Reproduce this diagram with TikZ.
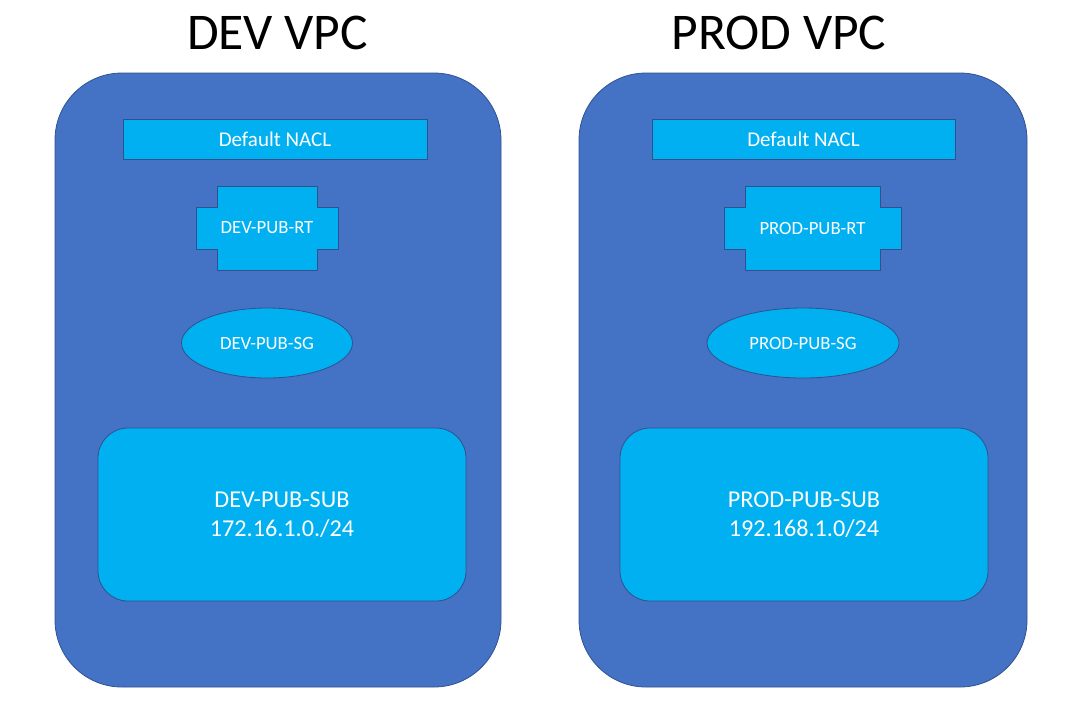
\documentclass[tikz,border=0pt]{standalone}
\usepackage{fontspec}
\setmainfont{Carlito}
\usepackage{tikz}
\usetikzlibrary{shapes.geometric}
\definecolor{vpcblue}{HTML}{4472C4}
\definecolor{edgeblue}{HTML}{2F528F}
\definecolor{partblue}{HTML}{00B0F0}
\tikzset{
  vpc/.style={draw=edgeblue, fill=vpcblue, line width=0.8pt, rounded corners=67pt},
  title/.style={anchor=base, font=\fontsize{51.5}{60}\selectfont},
  part/.style={draw=edgeblue, fill=partblue, line width=0.8pt, text=white, inner sep=0pt},
  nacl/.style={part, rectangle, font=\fontsize{21}{25}\selectfont},
  sg/.style={part, ellipse, font=\fontsize{18.7}{22}\selectfont},
  subnet/.style={part, rounded corners=30pt, align=center, font=\fontsize{24.2}{29}\selectfont},
  rtlabel/.style={text=white, font=\fontsize{18.7}{22}\selectfont},
}

\begin{document}
\begin{tikzpicture}[x=1pt, y=-1pt]
  \useasboundingbox (0,0) rectangle (1075,716);

  % titles
  \node[title] (devtitle) at (277.5,49) {DEV VPC};
  \node[title] (prodtitle) at (779,49) {PROD VPC};

  % vpcs
  \node[vpc, minimum width=446pt, minimum height=614pt] (devvpc) at (278,380) {};
  \node[vpc, minimum width=448pt, minimum height=614pt] (prodvpc) at (803,380) {};

  % nacls
  \node[nacl, minimum width=304pt, minimum height=40pt] (devnacl) at (275,139) {Default NACL};
  \node[nacl, minimum width=303pt, minimum height=40pt] (prodnacl) at (803.5,139) {Default NACL};

  % route tables
  \draw[part] (217,186) -- ++(100,0) -- ++(0,21) -- ++(21,0) -- ++(0,42) -- ++(-21,0)
    -- ++(0,21) -- ++(-100,0) -- ++(0,-21) -- ++(-21,0) -- ++(0,-42) -- ++(21,0) -- cycle;
  \node[rtlabel] (devrt) at (267,228) {DEV-PUB-RT};
  \draw[part] (745,186) -- ++(135,0) -- ++(0,21) -- ++(21,0) -- ++(0,42) -- ++(-21,0)
    -- ++(0,21) -- ++(-135,0) -- ++(0,-21) -- ++(-21,0) -- ++(0,-42) -- ++(21,0) -- cycle;
  \node[rtlabel] (prodrt) at (812.5,228) {PROD-PUB-RT};

  % security groups
  \node[sg, minimum width=171pt, minimum height=70pt] (devsg) at (267,343) {DEV-PUB-SG};
  \node[sg, minimum width=192pt, minimum height=70pt] (prodsg) at (803,343) {PROD-PUB-SG};

  % subnets
  \node[subnet, minimum width=368pt, minimum height=173pt] (devsub) at (282,514.5)
    {DEV-PUB-SUB\\172.16.1.0./24};
  \node[subnet, minimum width=368pt, minimum height=173pt] (prodsub) at (804,514.5)
    {PROD-PUB-SUB\\192.168.1.0/24};
\end{tikzpicture}
\end{document}
